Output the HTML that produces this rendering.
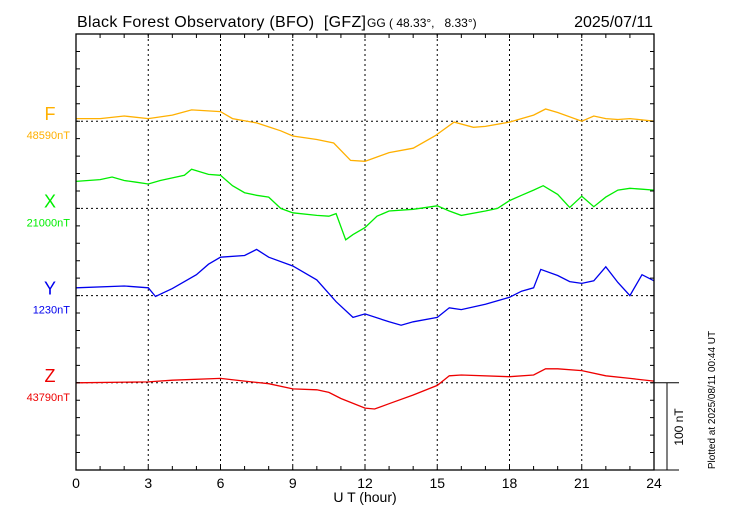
<!DOCTYPE html>
<html><head><meta charset="utf-8"><style>
body{margin:0;background:#fff}
svg{display:block;font-family:"Liberation Sans",sans-serif}
</style></head><body>
<svg id="c" width="730" height="520" viewBox="0 0 730 520">
<text x="77" y="27" font-size="16" xml:space="preserve" textLength="289">Black Forest Observatory (BFO)  [GFZ]</text>
<text x="367" y="27" font-size="12" xml:space="preserve">GG ( 48.33°,   8.33°)</text>
<text x="653" y="27" font-size="16" text-anchor="end">2025/07/11</text>
<g id="grid"></g>
<g id="series"></g>
<g id="axes"></g>
<text x="365" y="502" font-size="14" text-anchor="middle">U T (hour)</text>
<text transform="translate(683,427) rotate(-90)" font-size="12" text-anchor="middle">100 nT</text>
<text transform="translate(715,400) rotate(-90)" font-size="10" text-anchor="middle">Plotted at 2025/08/11 00:44 UT</text>
</svg>
<script>
const xTicks=[0,3,6,9,12,15,18,21,24];
const seriesNames=["F","X","Y","Z"];
const baseLabels=["48590nT","21000nT","1230nT","43790nT"];
const colors=["#ffb000","#00ee00","#0000ee","#ee0000"];
const fHours=[0,1,2,3,4,4.8,6,6.5,7.5,8.5,9,10,10.7,11.4,12,12.5,13,14,14.9,15.7,16.5,17,18,18.5,19,19.5,20,21,21.5,22,22.5,23,24];
const fVals=[3,3,6,3,7,13,11,3,-2,-11,-17,-21,-25,-45,-46,-41,-36,-31,-17,-1,-7,-6,-1,3,7,14,10,0,6,3,2,3,0];
const xHours=[0,1,1.5,2,2.5,3,3.5,4.5,4.8,5.5,6,6.5,7,7.5,8,8.5,9,10,10.5,10.8,11.2,11.5,12,12.5,13,14,15,15.5,16,17,17.5,18,18.5,19,19.4,20,20.5,21,21.5,22,22.5,23,23.5,24];
const xVals=[31,33,36,32,30,28,32,38,45,39,38,26,18,15,13,0,-5,-8,-9,-6,-36,-30,-22,-9,-3,-1,3,-3,-8,-3,0,9,15,21,26,16,1,14,2,13,21,23,22,21];
const yHours=[0,2,3,3.3,4,5,5.5,6,7,7.5,8,9,10,10.8,11.5,12,13,13.5,14,15,15.5,16,17,18,18.5,19,19.3,20,20.5,21,21.5,22,22.5,23,23.5,24];
const yVals=[9,11,9,-1,8,24,36,44,46,53,44,34,18,-7,-25,-21,-30,-34,-30,-25,-14,-16,-10,-2,5,9,30,23,16,14,17,33,15,0,24,17];
const zHours=[0,3,4,6,7,8,9,10,10.5,11,12,12.4,13,14,15,15.5,16,18,19,19.5,20,21,22,23,24];
const zVals=[0,1,3,5,2,-1,-7,-8,-11,-18,-29,-30,-24,-14,-3,8,9,7,9,16,16,14,8,5,2];

const L=76,R=654,T=34,B=470,blk=(B-T)/5;
const X=h=>L+(R-L)*h/24;
const bases=[T+blk,T+2*blk,T+3*blk,T+4*blk];
const Y=(i,v)=>bases[i]-v*blk/100;
const NS="http://www.w3.org/2000/svg";
function mk(tag,parent){const e=document.createElementNS(NS,tag);parent.appendChild(e);return e;}
const grid=document.getElementById('grid'),axes=document.getElementById('axes'),ser=document.getElementById('series');
xTicks.slice(1,-1).forEach(t=>{const l=mk('line',grid);


l.setAttribute('x1',X(t));l.setAttribute('x2',X(t));l.setAttribute('y1',T);l.setAttribute('y2',B);
l.setAttribute('stroke','#000');l.setAttribute('stroke-width','1');l.setAttribute('stroke-dasharray','2,3');});
bases.forEach(b=>{const l=mk('line',grid);


l.setAttribute('x1',L);l.setAttribute('x2',R);l.setAttribute('y1',b);l.setAttribute('y2',b);
l.setAttribute('stroke','#000');l.setAttribute('stroke-dasharray','2,3');});
const H=[fHours,xHours,yHours,zHours],V=[fVals,xVals,yVals,zVals];
for(let i=0;i<4;i++){
 const p=mk('polyline',ser);
 
 
 p.setAttribute('points',H[i].map((h,k)=>X(h).toFixed(1)+','+Y(i,V[i][k]).toFixed(1)).join(' '));
 p.setAttribute('fill','none');p.setAttribute('stroke',colors[i]);p.setAttribute('stroke-width','1.3');
 const t=mk('text',ser);
 
 
 t.setAttribute('x',50);t.setAttribute('y',bases[i]-1);t.setAttribute('font-size','18');t.setAttribute('text-anchor','middle');t.setAttribute('fill',colors[i]);t.textContent=seriesNames[i];
 const t2=mk('text',ser);
 
 
 t2.setAttribute('x',70);t2.setAttribute('y',bases[i]+18);t2.setAttribute('font-size','11');t2.setAttribute('text-anchor','end');t2.setAttribute('fill',colors[i]);t2.textContent=baseLabels[i];
}
const fr=mk('rect',axes);


fr.setAttribute('x',L);fr.setAttribute('y',T);fr.setAttribute('width',R-L);fr.setAttribute('height',B-T);fr.setAttribute('fill','none');fr.setAttribute('stroke','#000');fr.setAttribute('stroke-width','1.3');
let d='';
for(let h=1;h<24;h++){d+=`M${X(h)},${B}v-4M${X(h)},${T}v4`;}
for(let k=1;k<25;k++){const y=T+k*blk/5;d+=`M${L},${y}h4M${R},${y}h-4`;}
d+=`M${R},${bases[3]}H679M${R},${B}H679M667,${bases[3]}V${B}`;
const tk=mk('path',axes);


tk.setAttribute('d',d);tk.setAttribute('stroke','#000');tk.setAttribute('fill','none');
xTicks.forEach(t=>{const e=mk('text',axes);


e.setAttribute('x',X(t));e.setAttribute('y',488);e.setAttribute('font-size','14');e.setAttribute('text-anchor','middle');e.textContent=t;});
</script>
</body></html>
